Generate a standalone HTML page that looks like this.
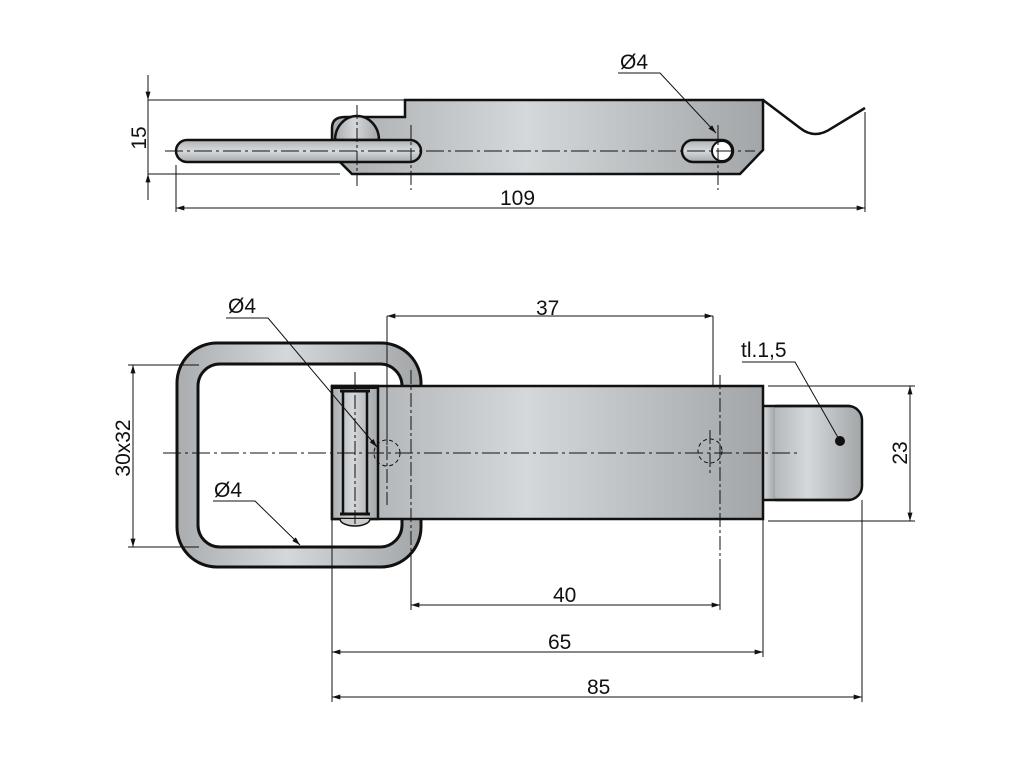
<!DOCTYPE html>
<html><head><meta charset="utf-8"><style>
html,body{margin:0;padding:0;background:#fff;width:1024px;height:768px;overflow:hidden}
text{font-family:"Liberation Sans",sans-serif;font-size:21px;fill:#111}
</style></head><body>
<svg width="1024" height="768" viewBox="0 0 1024 768" xmlns="http://www.w3.org/2000/svg">
<defs>
<linearGradient id="g" x1="0" x2="1" y1="0" y2="0">
<stop offset="0" stop-color="#a9adaf"/><stop offset="0.45" stop-color="#d4d8da"/><stop offset="1" stop-color="#a2a6a8"/></linearGradient>
<linearGradient id="gv" x1="0" x2="0" y1="0" y2="1">
<stop offset="0" stop-color="#b0b4b6"/><stop offset="0.5" stop-color="#d6dadc"/><stop offset="1" stop-color="#a5a9ab"/></linearGradient>
<marker id="a" viewBox="0 0 10 6" refX="10" refY="3" markerWidth="12" markerHeight="5" orient="auto-start-reverse" markerUnits="userSpaceOnUse"><path d="M0,0L10,3L0,6z" fill="#111"/></marker>
</defs>
<g stroke="#111" fill="none">
<!-- TOP VIEW -->
<path d="M405,100 L763,100 L763,150 L740,174 L352,174 L340,162 L332,140 L332,128 Q332,117 345,117 L405,117 Z" fill="url(#g)" stroke-width="2.5"/>
<path d="M763,100 L800,128 Q815,140 832,128 L865,108" stroke-width="2.5"/>
<path d="M335,140 A22,24 0 0 1 379,140 Z" fill="url(#g)" stroke-width="2.5"/>
<rect x="176" y="140" width="245" height="22" rx="11" fill="url(#gv)" stroke-width="2.5"/>
<rect x="682" y="140" width="51" height="22" rx="11" fill="url(#gv)" stroke-width="2.5"/>
<circle cx="722" cy="151" r="10" fill="#fff" stroke-width="2"/>
<path d="M165,151 H755" stroke-width="1" stroke-dasharray="18,4,3,4"/>
<path d="M357,105 V186 M411,125 V190 M718,125 V190" stroke-width="1" stroke-dasharray="14,3,3,3"/>
<path d="M148,100 H405 M148,174 H340" stroke-width="1"/>
<path d="M148,75 V200" stroke-width="1"/>
<path d="M148,85 V100" marker-end="url(#a)" stroke-width="1"/>
<path d="M148,190 V174" marker-end="url(#a)" stroke-width="1"/>
<path d="M176,165 V212 M865,112 V212" stroke-width="1"/>
<path d="M176,208 H865" marker-start="url(#a)" marker-end="url(#a)" stroke-width="1"/>
<path d="M618,73 H660 L716,133" stroke-width="1" marker-end="url(#a)"/>
<!-- BOTTOM VIEW -->
<rect x="177" y="343" width="244" height="224" rx="40" fill="url(#g)" stroke-width="3"/>
<rect x="198" y="364" width="204" height="183" rx="22" fill="#fff" stroke-width="3"/>
<rect x="763" y="406" width="99" height="94" rx="14" fill="url(#g)" stroke-width="2.5"/>
<rect x="755" y="406" width="20" height="94" fill="url(#g)" stroke="none"/>
<path d="M763,406 H850 M763,500 H850" stroke-width="2.5"/>
<rect x="332" y="386" width="431" height="133" fill="url(#g)" stroke-width="2.5"/>
<rect x="332" y="386" width="46" height="133" fill="url(#g)" stroke-width="2.5"/>
<path d="M343,390 V515 M367,390 V515" stroke-width="2.5"/>
<path d="M332,387 H378" stroke-width="4"/>
<path d="M340,391 H370 M340,514 H370" stroke-width="3"/>
<path d="M340,519 A15,7 0 0 0 370,519" fill="#ccc" stroke-width="1.5"/>
<circle cx="840" cy="441" r="4.5" fill="#111"/>
<path d="M163,453 H800" stroke-width="1" stroke-dasharray="18,4,3,4"/>
<circle cx="387" cy="453" r="13" stroke-width="1" stroke-dasharray="4,3"/>
<circle cx="710" cy="451" r="12" stroke-width="1" stroke-dasharray="4,3"/>
<path d="M355,372 V525 M387,400 V505 M411,370 V560 M710,430 V475 M720,375 V560" stroke-width="1" stroke-dasharray="14,3,3,3"/>
<!-- dims -->
<path d="M387,316 V445 M713,316 V386" stroke-width="1"/>
<path d="M387,316 H713" marker-start="url(#a)" marker-end="url(#a)" stroke-width="1"/>
<path d="M411,560 V610 M720,560 V610" stroke-width="1"/>
<path d="M411,605 H720" marker-start="url(#a)" marker-end="url(#a)" stroke-width="1"/>
<path d="M332,520 V702 M763,520 V657 M862,500 V702" stroke-width="1"/>
<path d="M332,652 H763" marker-start="url(#a)" marker-end="url(#a)" stroke-width="1"/>
<path d="M332,697 H862" marker-start="url(#a)" marker-end="url(#a)" stroke-width="1"/>
<path d="M128,365 H199 M128,547 H199" stroke-width="1"/>
<path d="M133,365 V547" marker-start="url(#a)" marker-end="url(#a)" stroke-width="1"/>
<path d="M768,386 H915 M768,521 H915" stroke-width="1"/>
<path d="M910,386 V521" marker-start="url(#a)" marker-end="url(#a)" stroke-width="1"/>
<path d="M226,318 H268 L377,447" stroke-width="1" marker-end="url(#a)"/>
<path d="M213,501 H255 L300,545" stroke-width="1" marker-end="url(#a)"/>
<path d="M742,362 H795 L840,441" stroke-width="1"/>
</g>
<text x="620" y="69">Ø4</text>
<text x="500" y="205">109</text>
<text transform="translate(146,138) rotate(-90)" text-anchor="middle">15</text>
<text x="536" y="315">37</text>
<text x="228" y="313">Ø4</text>
<text x="214" y="497">Ø4</text>
<text x="741" y="357">tl.1,5</text>
<text x="553" y="602">40</text>
<text x="548" y="649">65</text>
<text x="587" y="694">85</text>
<text transform="translate(130,448) rotate(-90)" text-anchor="middle">30x32</text>
<text transform="translate(907,453) rotate(-90)" text-anchor="middle">23</text>
</svg>
</body></html>
